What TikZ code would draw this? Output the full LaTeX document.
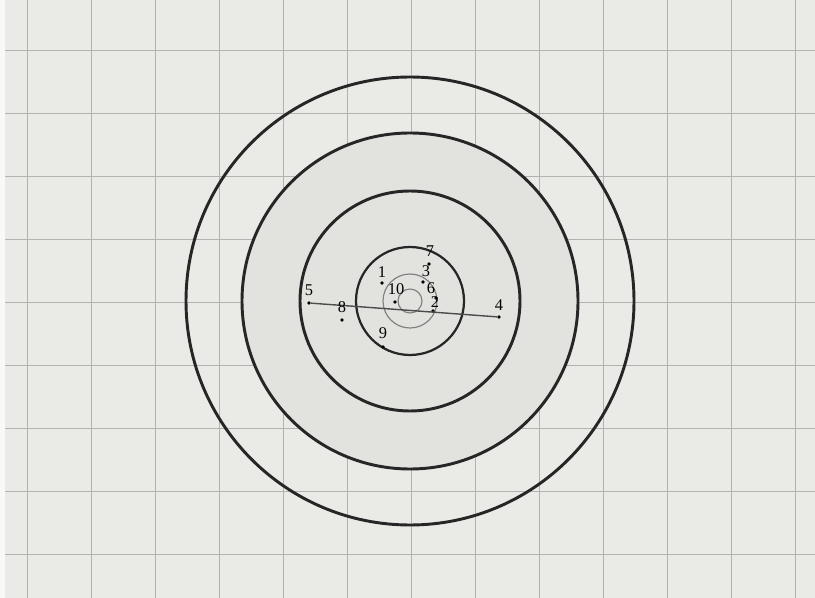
\documentclass[tikz,border=0pt]{standalone}
\usepackage{fontspec}
\setmainfont{Liberation Serif}
\definecolor{paper}{RGB}{234,234,231}
\definecolor{tint}{RGB}{226,226,223}
\definecolor{gridline}{RGB}{178,178,176}
\begin{document}
\begin{tikzpicture}[
    x=0.03cm, y=-0.03cm,
    ring/.style={draw=black!85, line width=2.5pt},
    innerring/.style={draw=black!85, line width=1.9pt},
    faintring/.style={draw=black!50, line width=1pt},
    gridln/.style={draw=gridline, line width=0.5pt},
    shot/.style={circle, fill=black, inner sep=0pt, minimum size=3.2pt},
    num/.style={font=\fontsize{14}{16}\selectfont, inner sep=0pt},
    track/.style={draw=black!70, line width=1.2pt}
]

% paper and squares
\fill[paper] (0,0) rectangle (815,598);
\useasboundingbox (0,0) rectangle (815,598);
\fill[white!70!paper] (0,0) rectangle (5,598);
\foreach \x in {27,91,...,795} \draw[gridln] (\x,0) -- (\x,598);
\foreach \y in {50,113,...,554} \draw[gridln] (5,\y) -- (815,\y);

% target
\coordinate (c) at (410,301);
\fill[tint] (c) circle[radius=168];
\draw[ring] (c) circle[radius=224];
\draw[ring] (c) circle[radius=168];
\draw[ring] (c) circle[radius=110];
\draw[innerring] (c) circle[radius=54];
\draw[faintring] (c) circle[radius=27];
\draw[faintring] (c) circle[radius=12];

% shots
\node[shot] (s1)  at (382,283) {};
\node[shot] (s2)  at (433,311) {};
\node[shot] (s3)  at (423,282) {};
\node[shot] (s4)  at (499,317) {};
\node[shot] (s5)  at (309,303) {};
\node[shot] (s6)  at (436,298) {};
\node[shot] (s7)  at (429,264) {};
\node[shot] (s8)  at (342,320) {};
\node[shot] (s9)  at (383,347) {};
\node[shot] (s10) at (395,302) {};

\draw[track] (s5) -- (s4);

\node[num] (n1)  at (382,272) {1};
\node[num] (n2)  at (435,302.5) {2};
\node[num] (n3)  at (426,271) {3};
\node[num] (n4)  at (499,305) {4};
\node[num] (n5)  at (309,290) {5};
\node[num] (n6)  at (431,288) {6};
\node[num] (n7)  at (430,251) {7};
\node[num] (n8)  at (342,307) {8};
\node[num] (n9)  at (383,333) {9};
\node[num] (n10) at (396,289) {10};

\end{tikzpicture}
\end{document}
